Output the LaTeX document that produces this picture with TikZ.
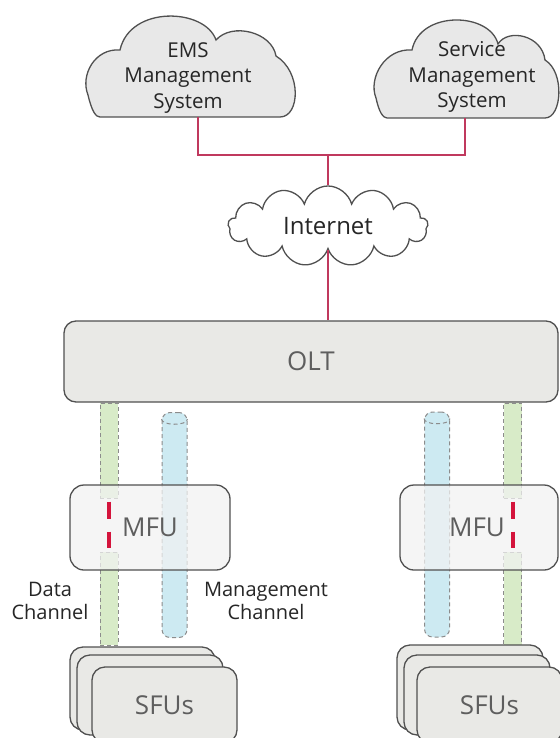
\documentclass[tikz,border=0pt]{standalone}
\usepackage{fontspec}
\setmainfont{Open Sans}
\usetikzlibrary{shapes.symbols}
\definecolor{cloudfill}{HTML}{E8E8E8}
\definecolor{edge}{HTML}{505050}
\definecolor{linkred}{HTML}{C0395E}
\definecolor{boxfill}{HTML}{E9E9E6}
\definecolor{mfufill}{HTML}{F2F2F2}
\definecolor{greenfill}{HTML}{D8EBC8}
\definecolor{bluefill}{HTML}{CDEAF2}
\definecolor{dashgray}{HTML}{8C8C8C}
\definecolor{dashred}{HTML}{D4143C}
\definecolor{labelgray}{HTML}{5E5E5E}
\begin{document}
\begin{tikzpicture}[x=1pt,y=-1pt,
 cloudline/.style={draw=edge,fill=cloudfill,line width=1.3pt},
 redlink/.style={draw=linkred,line width=1.4pt},
 bigbox/.style={draw=edge,fill=boxfill,line width=1.3pt,rounded corners=12pt,inner sep=0pt},
 mfubox/.style={draw=edge,fill=mfufill,fill opacity=0.72,text opacity=1,line width=1.3pt,rounded corners=14pt,inner sep=0pt,minimum height=85pt},
 sfubox/.style={draw=edge,fill=boxfill,line width=1.3pt,rounded corners=13pt,inner sep=0pt},
 gtube/.style={draw=dashgray,fill=greenfill,dash pattern=on 4pt off 3pt,line width=1pt,inner sep=0pt,minimum width=18pt},
 btube/.style={draw=dashgray,fill=bluefill,dash pattern=on 4pt off 3pt,line width=1pt,rounded corners=8pt,inner sep=0pt,minimum width=25pt,minimum height=225pt},
 capline/.style={draw=dashgray,dash pattern=on 4pt off 3pt,line width=1pt},
 reddash/.style={draw=dashred,line width=4pt,dash pattern=on 17pt off 13pt},
 cloudtext/.style={font=\fontsize{20.5}{25.5}\selectfont,text=black!85,align=center},
 graytext/.style={font=\fontsize{26}{30}\selectfont,text=labelgray},
 chantext/.style={font=\fontsize{20}{23}\selectfont,text=black!85,align=center},
]
\fill[white] (0,0) rectangle (559,738);
\useasboundingbox (0,0) rectangle (559,738);

% top clouds
\path[cloudline] (100,117) -- (280,117)
  .. controls (300,117) and (302,72) .. (276,56)
  .. controls (272,32) and (232,22) .. (216,40)
  .. controls (205,8) and (130,5) .. (120,50)
  .. controls (95,48) and (80,75) .. (88,95)
  .. controls (92,112) and (96,117) .. (100,117) -- cycle;
\node[cloudtext] (ems) at (188,78) {EMS\\Management\\System};

\path[cloudline] (387,118) -- (545,118)
  .. controls (562,118) and (565,72) .. (545,60)
  .. controls (542,35) and (508,28) .. (498,44)
  .. controls (490,12) and (420,10) .. (412,50)
  .. controls (385,48) and (368,78) .. (376,98)
  .. controls (379,112) and (383,118) .. (387,118) -- cycle;
\node[cloudtext] (svc) at (472,77) {Service\\Management\\System};

% internet and OLT
\node[cloud,cloud puffs=13,aspect=2.4,draw=edge,fill=white,line width=1.3pt,
      minimum width=200pt,minimum height=80pt,inner sep=0pt,
      font=\fontsize{24}{28}\selectfont,text=black!85] (inet) at (328,226) {Internet};
\node[bigbox,graytext,minimum width=494pt,minimum height=81pt] (olt) at (311,361.5) {OLT};

\coordinate (emsb) at (198,117);
\coordinate (svcb) at (465,118);
\coordinate (junc) at (328,155);
\draw[redlink] (emsb) |- (junc) -| (svcb);
\draw[redlink] (junc) -- (inet.north);
\draw[redlink] (inet.south) -- (inet.south |- olt.north);

% channels (tubes)
\node[gtube,minimum height=95pt] (lg1) at (109,450.5) {};
\node[gtube,minimum height=93pt] (lg2) at (109,598.5) {};
\node[btube] (lb) at (174.5,525) {};
\node[btube] (rb) at (437,524.5) {};
\node[gtube,minimum height=95pt] (rg1) at (512.5,450.5) {};
\node[gtube,minimum height=93pt] (rg2) at (512.5,598.5) {};
\draw[capline] ([yshift=-7pt]lb.north west) .. controls +(0,-7pt) and +(0,-7pt) .. ([yshift=-7pt]lb.north east);
\draw[capline] ([yshift=-7pt]rb.north west) .. controls +(0,-7pt) and +(0,-7pt) .. ([yshift=-7pt]rb.north east);

% MFUs
\node[mfubox,minimum width=160pt,graytext] (mfuL) at (150,527.5) {MFU};
\node[mfubox,minimum width=158pt,graytext] (mfuR) at (479,527.5) {\hspace*{-4pt}MFU};

\draw[reddash] ([yshift=-3pt]lg1.south) -- ([yshift=4pt]lg2.north);
\draw[reddash] ([yshift=-3pt]rg1.south) -- ([yshift=4pt]rg2.north);

% labels
\node[chantext] (dlab) at (50,601) {Data\\Channel};
\node[chantext] (mlab) at (266,601) {Management\\Channel};

% SFUs
\node[sfubox,minimum width=145pt,minimum height=83pt] (sfuL3) at (142.5,688.5) {};
\node[sfubox,minimum width=146pt,minimum height=80pt] (sfuL2) at (150,695) {};
\node[sfubox,graytext,minimum width=145pt,minimum height=76pt] (sfuL1) at (164.5,705) {SFUs};
\node[sfubox,minimum width=146pt,minimum height=85pt] (sfuR3) at (470,687.5) {};
\node[sfubox,minimum width=146pt,minimum height=80pt] (sfuR2) at (477,695) {};
\node[sfubox,graytext,minimum width=145pt,minimum height=76pt] (sfuR1) at (489.5,705) {SFUs};
\end{tikzpicture}
\end{document}
